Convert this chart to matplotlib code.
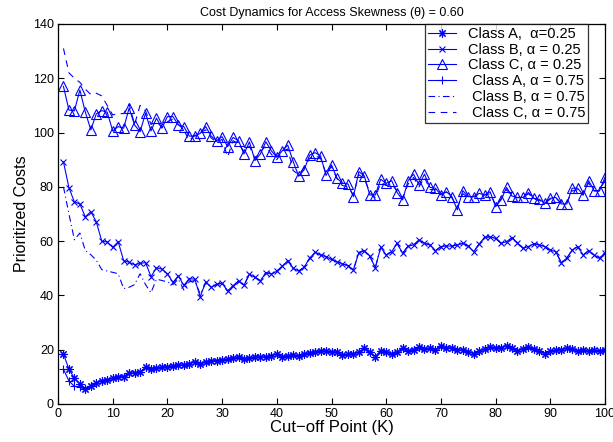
import matplotlib
matplotlib.use("Agg")
import matplotlib.pyplot as plt

K = list(range(1, 101))

class_a_025 = [18.4, 12.8, 9.5, 7.4, 5.6, 6.6, 7.8, 8.6, 8.8, 9.5,
               10.1, 10.1, 11.4, 11.4, 11.7, 13.5, 13.0, 13.3, 13.6, 13.8,
               14.0, 14.2, 14.4, 14.8, 15.6, 14.8, 15.5, 15.8, 16.0, 16.3,
               16.5, 16.8, 17.4, 16.5, 16.8, 17.4, 17.2, 17.4, 17.8, 18.4,
               17.4, 17.8, 18.0, 17.6, 18.4, 18.9, 19.2, 19.6, 19.4, 19.3,
               19.0, 18.0, 18.3, 18.6, 19.0, 20.5, 19.0, 17.4, 19.6, 19.3,
               18.4, 19.0, 20.5, 19.5, 20.0, 20.9, 20.2, 20.5, 20.0, 21.4,
               20.8, 20.5, 20.0, 19.8, 19.3, 18.6, 19.5, 20.2, 21.1, 20.5,
               20.8, 21.4, 20.6, 19.6, 20.3, 20.9, 20.2, 19.6, 18.6, 19.5,
               19.8, 20.0, 20.5, 20.2, 19.6, 20.0, 19.6, 19.8, 19.5, 19.8]

class_b_025 = [89.2, 79.7, 74.4, 73.7, 68.9, 70.9, 67.1, 60.0, 59.7, 57.7,
               59.8, 52.8, 52.2, 51.3, 51.8, 52.1, 46.9, 50.2, 49.7, 48.0,
               44.8, 47.2, 43.7, 46.2, 46.0, 39.5, 45.0, 43.0, 44.1, 44.5,
               41.6, 43.6, 45.3, 43.8, 47.8, 46.7, 45.4, 48.4, 47.9, 48.9,
               50.8, 52.8, 50.0, 49.0, 50.4, 53.7, 55.9, 54.9, 54.3, 53.3,
               52.4, 51.6, 51.0, 49.4, 55.8, 56.5, 54.5, 50.2, 57.7, 54.9,
               56.1, 59.2, 55.5, 58.2, 58.6, 60.4, 59.2, 58.6, 56.5, 58.0,
               58.2, 58.2, 58.6, 59.2, 58.2, 56.1, 59.0, 61.4, 61.6, 61.0,
               59.2, 59.8, 61.3, 59.4, 57.4, 58.0, 59.0, 58.6, 58.0, 56.7,
               56.1, 52.1, 53.7, 56.7, 58.0, 54.9, 56.5, 54.9, 53.7, 55.8]

class_c_025 = [117.0, 108.3, 108.0, 115.7, 107.5, 101.0, 106.9, 108.1, 107.5, 100.6,
               102.2, 101.6, 109.0, 102.8, 100.3, 107.1, 100.6, 105.3, 101.6, 105.9,
               105.9, 102.8, 102.2, 98.7, 98.7, 99.7, 102.2, 98.7, 97.0, 98.5,
               94.8, 98.2, 97.0, 92.1, 96.6, 89.7, 92.1, 96.6, 93.3, 90.9,
               93.3, 95.4, 89.3, 83.9, 86.3, 91.7, 92.6, 91.4, 84.2, 88.1,
               83.2, 81.3, 81.1, 76.4, 85.6, 84.0, 77.0, 77.0, 82.8, 81.3,
               82.3, 77.9, 75.2, 82.3, 84.7, 80.7, 84.7, 79.8, 79.5, 77.0,
               78.2, 76.4, 71.5, 78.6, 76.4, 76.4, 77.6, 77.0, 78.2, 72.7,
               75.2, 79.8, 76.6, 76.1, 76.1, 77.9, 75.8, 75.4, 73.9, 75.8,
               76.1, 73.7, 73.7, 79.5, 79.5, 77.0, 82.3, 78.6, 78.6, 83.5]

class_a_075 = [12.8, 8.5, 6.5, 6.4, 6.0, 6.6, 7.8, 8.6, 8.8, 9.5,
               10.1, 10.1, 11.4, 11.4, 11.7, 13.5, 13.0, 13.3, 13.6, 13.8,
               14.0, 14.2, 14.4, 14.8, 15.6, 14.8, 15.5, 15.8, 16.0, 16.3,
               16.5, 16.8, 17.4, 16.5, 16.8, 17.4, 17.2, 17.4, 17.8, 18.4,
               17.4, 17.8, 18.0, 17.6, 18.4, 18.9, 19.2, 19.6, 19.4, 19.3,
               19.0, 18.0, 18.3, 18.6, 19.0, 20.5, 19.0, 17.4, 19.6, 19.3,
               18.4, 19.0, 20.5, 19.5, 20.0, 20.9, 20.2, 20.5, 20.0, 21.4,
               20.8, 20.5, 20.0, 19.8, 19.3, 18.6, 19.5, 20.2, 21.1, 20.5,
               20.8, 21.4, 20.6, 19.6, 20.3, 20.9, 20.2, 19.6, 18.6, 19.5,
               19.8, 20.0, 20.5, 20.2, 19.6, 20.0, 19.6, 19.8, 19.5, 19.8]

class_b_075 = [80.0, 70.0, 60.5, 63.0, 56.5, 55.0, 53.0, 49.5, 49.0, 48.5,
               48.0, 42.5, 43.0, 44.0, 48.0, 44.0, 41.0, 46.0, 45.5, 45.0,
               44.0, 46.0, 42.0, 45.0, 45.5, 40.5, 44.5, 43.0, 44.0, 44.5,
               41.6, 43.6, 45.3, 43.8, 47.8, 46.7, 45.4, 48.4, 47.9, 48.9,
               50.8, 52.8, 50.0, 49.0, 50.4, 53.7, 55.9, 54.9, 54.3, 53.3,
               52.4, 51.6, 51.0, 49.4, 55.8, 56.5, 54.5, 50.2, 57.7, 54.9,
               56.1, 59.2, 55.5, 58.2, 58.6, 60.4, 59.2, 58.6, 56.5, 58.0,
               58.2, 58.2, 58.6, 59.2, 58.2, 56.1, 59.0, 61.4, 61.6, 61.0,
               59.2, 59.8, 61.3, 59.4, 57.4, 58.0, 59.0, 58.6, 58.0, 56.7,
               56.1, 52.1, 53.7, 56.7, 58.0, 54.9, 56.5, 54.9, 53.7, 55.8]

class_c_075 = [131.0, 122.0, 120.0, 118.5, 116.0, 114.0, 114.5, 113.5, 110.0, 106.5,
               107.0, 107.0, 110.5, 103.0, 110.0, 108.0, 103.0, 104.0, 102.0, 104.0,
               105.0, 103.0, 101.0, 97.0, 99.0, 100.0, 101.0, 98.0, 96.5, 97.5,
               91.0, 97.0, 96.0, 93.0, 95.0, 90.5, 93.0, 95.0, 92.0, 90.0,
               93.0, 94.0, 86.0, 84.5, 87.0, 90.5, 91.5, 90.5, 85.0, 87.5,
               83.0, 80.5, 80.0, 77.0, 84.5, 83.0, 78.0, 76.0, 81.5, 80.5,
               81.0, 78.5, 76.0, 81.0, 83.5, 80.0, 83.5, 79.0, 79.0, 77.5,
               78.0, 76.0, 72.5, 77.5, 76.0, 76.5, 77.0, 77.0, 77.5, 73.5,
               75.5, 79.0, 76.5, 76.0, 76.0, 77.5, 75.5, 75.0, 74.0, 75.5,
               76.0, 74.0, 74.0, 78.5, 79.0, 77.0, 81.5, 78.5, 78.5, 82.5]

labels = ["Class A,  \u03b1=0.25", "Class B, \u03b1 = 0.25", "Class C, \u03b1 = 0.25",
          " Class A, \u03b1 = 0.75", " Class B, \u03b1 = 0.75", " Class C, \u03b1 = 0.75"]
title = "Cost Dynamics for Access Skewness (\u03b8) = 0.60"
xticks = list(range(0, 101, 10))
yticks = list(range(0, 141, 20))

plt.rcParams['font.family'] = ['Liberation Sans', 'DejaVu Sans']
blue = '#0000ff'

fig = plt.figure(figsize=(6.13, 4.42), dpi=100)
ax = fig.add_axes([58/613, 38/442, (605-58)/613, (404-24)/442])

lw = 0.8
ax.plot(K, class_a_025, color=blue, lw=lw, marker=(8, 2, 0), ms=6, mew=0.8, label=labels[0])
ax.plot(K, class_b_025, color=blue, lw=lw, marker='x', ms=5, mew=0.8, label=labels[1])
ax.plot(K, class_c_025, color=blue, lw=lw, marker='^', ms=7, mew=0.8, mfc='none', label=labels[2])
ax.plot(K, class_a_075, color=blue, lw=lw, marker='+', ms=6, mew=0.8, label=labels[3])
ax.plot(K, class_b_075, color=blue, lw=lw, ls=(0, (6, 3, 1, 3)), label=labels[4])
ax.plot(K, class_c_075, color=blue, lw=lw, ls=(0, (6, 5)), label=labels[5])

ax.set_xlim(0, 100)
ax.set_ylim(0, 140)
ax.set_xticks(xticks)
ax.set_yticks(yticks)
ax.tick_params(direction='in', top=True, right=True, length=4, width=0.8, labelsize=9, pad=3)
for s in ax.spines.values():
    s.set_linewidth(0.9)

ax.set_xlabel("Cut\u2212off Point (K)", fontsize=12, labelpad=0)
ax.set_ylabel("Prioritized Costs", fontsize=11.5, labelpad=3)
ax.set_title(title, fontsize=9, pad=6)

leg = ax.legend(loc='upper right', bbox_to_anchor=(530/547, 1.0), borderaxespad=0,
                fontsize=10.5, frameon=True, fancybox=False, edgecolor='black',
                handlelength=1.9, handletextpad=0.8, labelspacing=0.12,
                borderpad=0.2, handleheight=0.7)
leg.get_frame().set_linewidth(0.9)

fig.savefig("out.png", dpi=100)
